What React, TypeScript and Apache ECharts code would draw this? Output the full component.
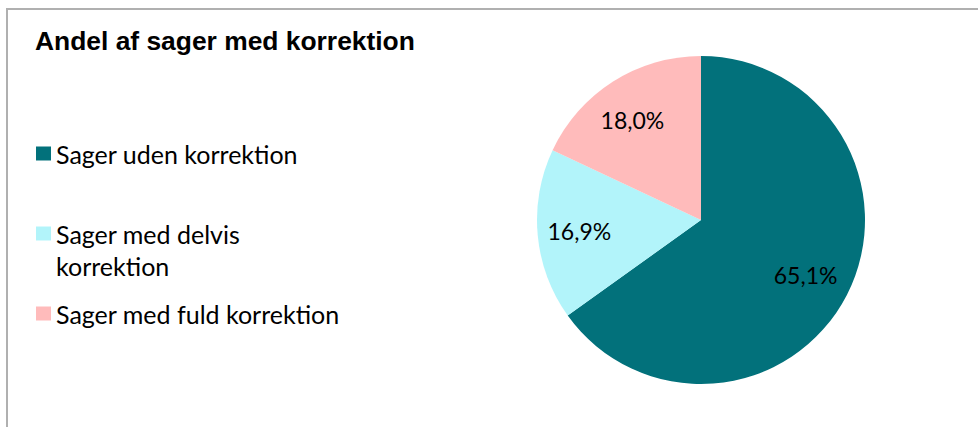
import React, { useEffect, useRef } from "react";
import * as echarts from "echarts";

const categories = ["Sager uden korrektion", "Sager med delvis korrektion", "Sager med fuld korrektion"];
const values = [65.1, 16.9, 18.0];
const colors = ["#02717B", "#B2F4FA", "#FFBBBB"];
const legendLabels: Record<string, string> = {
  "Sager uden korrektion": "Sager uden korrektion",
  "Sager med delvis korrektion": "\nSager med delvis\nkorrektion",
  "Sager med fuld korrektion": "Sager med fuld korrektion",
};
const labelOffsets: [number, number][] = [[29, 16], [-37, 3], [-23, -28]];

export default function App() {
  const ref = useRef<HTMLDivElement>(null);
  useEffect(() => {
    document.body.style.margin = "0";
    if (!ref.current) return;
    const chart = echarts.init(ref.current, undefined, { renderer: "svg" });
    const font = "Lato";
    const legendBase = {
      orient: "vertical" as const,
      left: 36,
      itemWidth: 15,
      itemHeight: 14,
      icon: "rect",
      selectedMode: false,
      padding: 0,
      formatter: (n: string) => legendLabels[n] ?? n,
      textStyle: { fontFamily: font, fontSize: 25, lineHeight: 32, color: "#000" },
    };
    chart.setOption({
      animation: false,
      backgroundColor: "#fff",
      title: {
        text: "Andel af sager med korrektion",
        left: 35,
        top: 28,
        padding: 0,
        textStyle: { fontFamily: "Liberation Sans", fontWeight: "bold", fontSize: 26.4, color: "#000" },
      },
      legend: [
        { ...legendBase, top: 137.5, data: [categories[0]] },
        { ...legendBase, top: 185.5, data: [categories[1]] },
        { ...legendBase, top: 297.5, data: [categories[2]] },
      ],
      graphic: [
        {
          type: "rect",
          shape: { x: 7, y: 9, width: 1100, height: 600 },
          style: { fill: "none", stroke: "#b0b0b0", lineWidth: 2 },
          silent: true,
        },
      ],
      series: [
        {
          type: "pie",
          center: [701, 220],
          radius: 164,
          startAngle: 90,
          clockwise: true,
          avoidLabelOverlap: false,
          labelLine: { show: false },
          emphasis: { disabled: true },
          itemStyle: { borderWidth: 0 },
          data: categories.map((c, i) => ({
            name: c,
            value: values[i],
            itemStyle: { color: colors[i] },
            label: {
              show: true,
              position: "inside",
              offset: labelOffsets[i],
              formatter: () => values[i].toFixed(1).replace(".", ",") + "%",
              fontFamily: font,
              fontSize: 23,
              color: "#000",
            },
          })),
        },
      ],
    });
    return () => chart.dispose();
  }, []);
  return <div ref={ref} style={{ width: 978, height: 427 }} />;
}
